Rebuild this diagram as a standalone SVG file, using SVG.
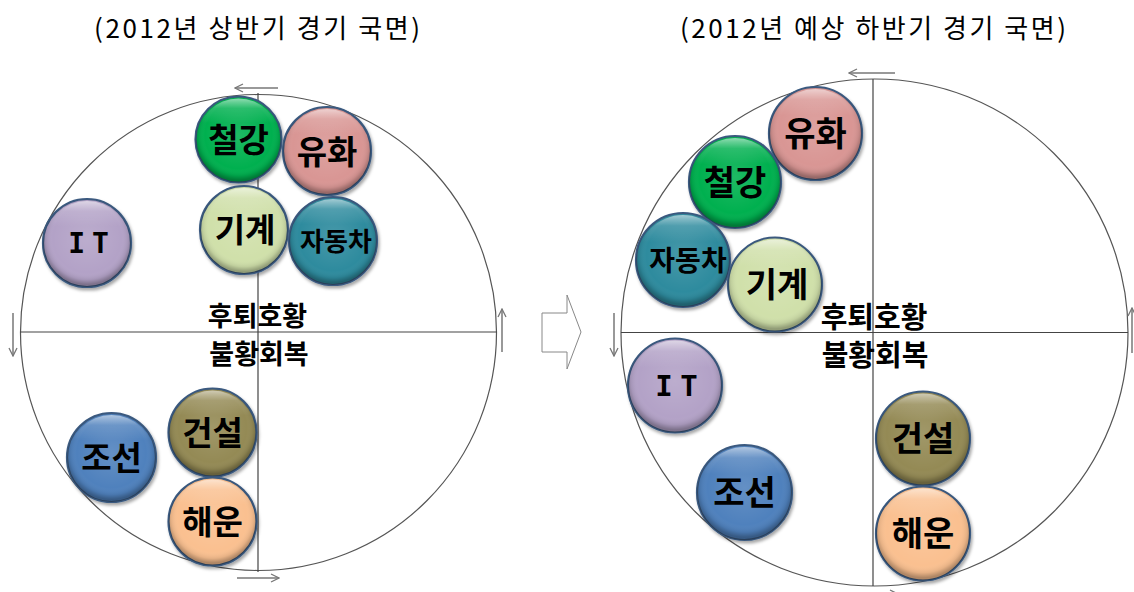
<svg xmlns="http://www.w3.org/2000/svg" width="1134" height="592" viewBox="0 0 1134 592">
<style>
.title{font-family:"Noto Sans CJK KR","Noto Sans",sans-serif;font-size:26px;fill:#000}
.quad{font-family:"Noto Sans CJK KR","Noto Sans",sans-serif;font-weight:bold;fill:#000;text-anchor:middle}
.lbl{font-family:"Noto Sans CJK KR","Noto Sans",sans-serif;font-weight:bold;fill:#000;text-anchor:middle}
.it{font-family:"DejaVu Sans Mono","Liberation Mono",monospace;font-weight:bold;fill:#000;text-anchor:middle;letter-spacing:-5px}
.ring{fill:none;stroke:#555;stroke-width:1.2}
.axis{stroke:#444;stroke-width:1.2}
.arr{stroke:#777;stroke-width:1.5;fill:none;marker-end:url(#ah)}
.base{stroke:#3B5A80;stroke-width:2.2;filter:url(#sh)}
.shade{fill:url(#shade)}
.gloss{fill:url(#gloss)}
</style>
<defs>
<marker id="ah" viewBox="0 0 10 10" refX="9" refY="5" markerWidth="10" markerHeight="10" markerUnits="userSpaceOnUse" orient="auto">
<path d="M1,1 L9,5 L1,9" fill="none" stroke="#777" stroke-width="1.3"/>
</marker>
<radialGradient id="shade" cx="50%" cy="45%" r="52%">
<stop offset="0" stop-color="#fff" stop-opacity="0.12"/>
<stop offset="0.75" stop-color="#fff" stop-opacity="0"/>
<stop offset="0.9" stop-color="#000" stop-opacity="0.08"/>
<stop offset="1" stop-color="#000" stop-opacity="0.3"/>
</radialGradient>
<linearGradient id="gloss" x1="0" y1="0" x2="0" y2="1">
<stop offset="0" stop-color="#fff" stop-opacity="0.55"/>
<stop offset="0.12" stop-color="#fff" stop-opacity="0.15"/>
<stop offset="0.3" stop-color="#fff" stop-opacity="0"/>
</linearGradient>
<filter id="sh" x="-20%" y="-20%" width="150%" height="150%">
<feDropShadow dx="1.5" dy="2.5" stdDeviation="1.8" flood-color="#000" flood-opacity="0.35"/>
</filter>
</defs>

<g id="titles">
<text class="title" x="257" y="38" text-anchor="middle" textLength="326" lengthAdjust="spacing">(2012년 상반기 경기 국면)</text>
<text class="title" x="873" y="38" text-anchor="middle" textLength="386" lengthAdjust="spacing">(2012년 예상 하반기 경기 국면)</text>
</g>

<g id="left-frame">
<circle class="ring" cx="258.5" cy="332.5" r="238"/>
<line class="axis" x1="20" y1="332" x2="497" y2="332"/>
<line class="axis" x1="258" y1="93" x2="258" y2="572" stroke="#666"/>
</g>
<g id="right-frame">
<circle class="ring" cx="874.5" cy="332.5" r="253.5"/>
<line class="axis" x1="621" y1="332.5" x2="1128" y2="332.5"/>
<line class="axis" x1="873" y1="79" x2="873" y2="586"/>
</g>

<g id="connectors">
<line class="arr" x1="278" y1="88" x2="235" y2="88"/>
<line class="arr" x1="13" y1="313" x2="13" y2="356"/>
<line class="arr" x1="502" y1="352" x2="502" y2="309"/>
<line class="arr" x1="237" y1="578" x2="279" y2="578"/>
<line class="arr" x1="895" y1="73" x2="849" y2="73"/>
<line class="arr" x1="614" y1="313" x2="614" y2="356"/>
<line class="arr" x1="1132" y1="353" x2="1132" y2="308"/>
<line class="arr" x1="855" y1="594" x2="898" y2="594"/>
</g>

<g id="block-arrow">
<polygon points="542,313 567,313 567,295 581,332 567,369 567,352 542,352" fill="#fff" stroke="#888" stroke-width="1"/>
</g>

<g id="left-labels">
<text class="quad" x="257.5" y="326" font-size="27">후퇴호황</text>
<text class="quad" x="259" y="364" font-size="27">불황회복</text>
</g>
<g id="right-labels">
<text class="quad" x="874" y="328" font-size="29">후퇴호황</text>
<text class="quad" x="875" y="366" font-size="29">불황회복</text>
</g>

<!-- left bubbles -->
<g id="L-steel"><circle class="base" cx="238.5" cy="139.5" r="43" fill="#00B050"/><circle class="shade" cx="238.5" cy="139.5" r="43"/><circle class="gloss" cx="238.5" cy="139.5" r="41"/><text class="lbl" x="238.5" y="152" font-size="33">철강</text></g>
<g id="L-petro"><circle class="base" cx="327" cy="151" r="44" fill="#D99694"/><circle class="shade" cx="327" cy="151" r="44"/><circle class="gloss" cx="327" cy="151" r="42"/><text class="lbl" x="327" y="164" font-size="33">유화</text></g>
<g id="L-mach"><circle class="base" cx="244" cy="230" r="44" fill="#D0E0AA"/><circle class="shade" cx="244" cy="230" r="44"/><circle class="gloss" cx="244" cy="230" r="42"/><text class="lbl" x="245" y="242" font-size="33">기계</text></g>
<g id="L-auto"><circle class="base" cx="333" cy="241" r="44" fill="#2E8B9E"/><circle class="shade" cx="333" cy="241" r="44"/><circle class="gloss" cx="333" cy="241" r="42"/><text class="lbl" x="336" y="251" font-size="26">자동차</text></g>
<g id="L-it"><circle class="base" cx="87" cy="243" r="44" fill="#B3A2C7"/><circle class="shade" cx="87" cy="243" r="44"/><circle class="gloss" cx="87" cy="243" r="42"/><text class="it" x="86" y="253" font-size="28">I T</text></g>
<g id="L-ship"><circle class="base" cx="111.5" cy="457.5" r="44.5" fill="#4F81BD"/><circle class="shade" cx="111.5" cy="457.5" r="44.5"/><circle class="gloss" cx="111.5" cy="457.5" r="42.5"/><text class="lbl" x="111.5" y="470" font-size="33">조선</text></g>
<g id="L-const"><circle class="base" cx="212.5" cy="432.5" r="44" fill="#948A54"/><circle class="shade" cx="212.5" cy="432.5" r="44"/><circle class="gloss" cx="212.5" cy="432.5" r="42"/><text class="lbl" x="212.5" y="445" font-size="33">건설</text></g>
<g id="L-marine"><circle class="base" cx="212.5" cy="521.5" r="44" fill="#FAC090"/><circle class="shade" cx="212.5" cy="521.5" r="44"/><circle class="gloss" cx="212.5" cy="521.5" r="42"/><text class="lbl" x="212.5" y="534" font-size="33">해운</text></g>

<!-- right bubbles -->
<g id="R-petro"><circle class="base" cx="815.5" cy="133.5" r="46.5" fill="#D99694"/><circle class="shade" cx="815.5" cy="133.5" r="46.5"/><circle class="gloss" cx="815.5" cy="133.5" r="44.5"/><text class="lbl" x="815.5" y="146" font-size="34">유화</text></g>
<g id="R-steel"><circle class="base" cx="735" cy="182" r="46" fill="#00B050"/><circle class="shade" cx="735" cy="182" r="46"/><circle class="gloss" cx="735" cy="182" r="44"/><text class="lbl" x="735" y="195" font-size="34">철강</text></g>
<g id="R-auto"><circle class="base" cx="683" cy="260" r="47" fill="#2E8B9E"/><circle class="shade" cx="683" cy="260" r="47"/><circle class="gloss" cx="683" cy="260" r="45"/><text class="lbl" x="688" y="271" font-size="28">자동차</text></g>
<g id="R-mach"><circle class="base" cx="775" cy="284.5" r="47" fill="#D0E0AA"/><circle class="shade" cx="775" cy="284.5" r="47"/><circle class="gloss" cx="775" cy="284.5" r="45"/><text class="lbl" x="777" y="297" font-size="34">기계</text></g>
<g id="R-it"><circle class="base" cx="675" cy="385.5" r="47" fill="#B3A2C7"/><circle class="shade" cx="675" cy="385.5" r="47"/><circle class="gloss" cx="675" cy="385.5" r="45"/><text class="it" x="674" y="396" font-size="29">I T</text></g>
<g id="R-ship"><circle class="base" cx="744.5" cy="492.5" r="47.5" fill="#4F81BD"/><circle class="shade" cx="744.5" cy="492.5" r="47.5"/><circle class="gloss" cx="744.5" cy="492.5" r="45.5"/><text class="lbl" x="744.5" y="505" font-size="34">조선</text></g>
<g id="R-const"><circle class="base" cx="923" cy="438.5" r="47" fill="#948A54"/><circle class="shade" cx="923" cy="438.5" r="47"/><circle class="gloss" cx="923" cy="438.5" r="45"/><text class="lbl" x="923" y="451" font-size="34">건설</text></g>
<g id="R-marine"><circle class="base" cx="923" cy="533.5" r="47" fill="#FAC090"/><circle class="shade" cx="923" cy="533.5" r="47"/><circle class="gloss" cx="923" cy="533.5" r="45"/><text class="lbl" x="923" y="546" font-size="34">해운</text></g>
</svg>
